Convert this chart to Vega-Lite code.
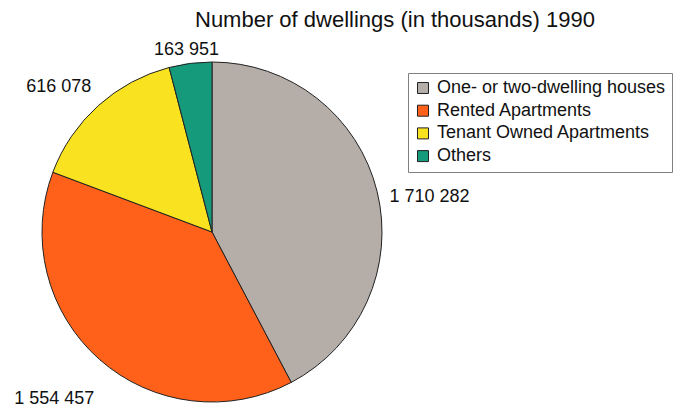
{
  "$schema": "https://vega.github.io/schema/vega-lite/v6.json",
  "width": 340,
  "height": 340,
  "autosize": {"type": "none"},
  "padding": {"left": 42, "top": 62, "right": 297, "bottom": 7},
  "background": "white",
  "config": {
    "view": {"stroke": null},
    "font": "Liberation Sans",
    "locale": {"number": {"decimal": ".", "thousands": " ", "grouping": [3], "currency": ["", ""]}}
  },
  "title": {
    "text": "Number of dwellings (in thousands) 1990",
    "anchor": "start",
    "frame": "group",
    "dx": 153,
    "dy": 44,
    "fontSize": 22,
    "fontWeight": "normal",
    "color": "#111111",
    "offset": 10
  },
  "data": {
    "values": [
      {"category": "One- or two-dwelling houses", "value": 1710282},
      {"category": "Rented Apartments", "value": 1554457},
      {"category": "Tenant Owned Apartments", "value": 616078},
      {"category": "Others", "value": 163951}
    ]
  },
  "encoding": {
    "theta": {"field": "value", "type": "quantitative", "stack": true},
    "order": {"field": "value", "type": "quantitative", "sort": "descending"}
  },
  "layer": [
    {
      "mark": {"type": "arc", "radius": 170, "stroke": "#222222", "strokeWidth": 1},
      "encoding": {
        "color": {
          "field": "category",
          "type": "nominal",
          "sort": ["One- or two-dwelling houses", "Rented Apartments", "Tenant Owned Apartments", "Others"],
          "scale": {
            "domain": ["One- or two-dwelling houses", "Rented Apartments", "Tenant Owned Apartments", "Others"],
            "range": ["#b5ada7", "#ff611a", "#f9e21f", "#159a7c"]
          },
          "legend": {
            "title": null,
            "orient": "none",
            "legendX": 366,
            "legendY": 11,
            "strokeColor": "#808080",
            "fillColor": "white",
            "padding": 6,
            "symbolType": "square",
            "symbolSize": 121,
            "symbolStrokeColor": "#222222",
            "symbolStrokeWidth": 1,
            "symbolOpacity": 1,
            "labelFontSize": 18,
            "labelColor": "#111111",
            "labelOffset": 5,
            "labelLimit": 400,
            "rowPadding": 4.7
          }
        }
      }
    },
    {
      "mark": {"type": "text", "radius": 220, "dx": 4, "dy": 18, "fontSize": 18, "fill": "#111111", "align": "center", "baseline": "middle"},
      "encoding": {
        "text": {"condition": {"test": "datum.category === 'One- or two-dwelling houses'", "field": "value", "type": "quantitative", "format": ",d"}, "value": ""}
      }
    },
    {
      "mark": {"type": "text", "radius": 225, "dx": -9, "dy": -2, "fontSize": 18, "fill": "#111111", "align": "center", "baseline": "middle"},
      "encoding": {
        "text": {"condition": {"test": "datum.category === 'Rented Apartments'", "field": "value", "type": "quantitative", "format": ",d"}, "value": ""}
      }
    },
    {
      "mark": {"type": "text", "radius": 205, "dx": -16, "dy": 7, "fontSize": 18, "fill": "#111111", "align": "center", "baseline": "middle"},
      "encoding": {
        "text": {"condition": {"test": "datum.category === 'Tenant Owned Apartments'", "field": "value", "type": "quantitative", "format": ",d"}, "value": ""}
      }
    },
    {
      "mark": {"type": "text", "radius": 185, "dx": -2, "dy": 2, "fontSize": 18, "fill": "#111111", "align": "center", "baseline": "middle"},
      "encoding": {
        "text": {"condition": {"test": "datum.category === 'Others'", "field": "value", "type": "quantitative", "format": ",d"}, "value": ""}
      }
    }
  ]
}
